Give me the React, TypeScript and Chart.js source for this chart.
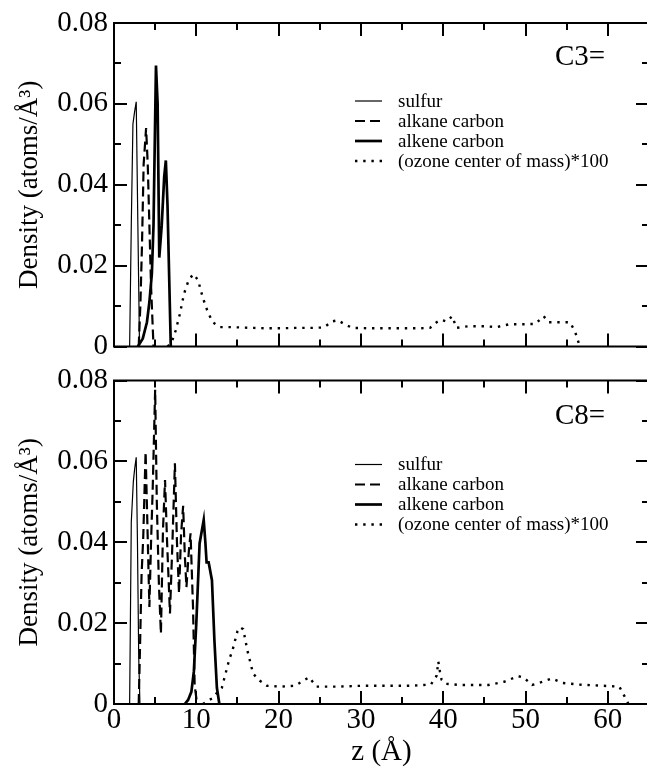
import React, { useEffect, useRef } from "react";
import { Chart, registerables } from "chart.js";
Chart.register(...registerables);

// ---------- axis data ----------
const X_MIN = 0;
const X_MAX = 65;
const Y_MIN = 0;
const Y_MAX = 0.08;
const xTickLabels = ["0", "10", "20", "30", "40", "50", "60"];
const yTickLabels = ["0", "0.02", "0.04", "0.06", "0.08"];
const xTitle = "z (Å)";
const yTitle = "Density (atoms/Å³)";
const legendLabels = ["sulfur", "alkane carbon", "alkene carbon", "(ozone center of mass)*100"];
const panelLabels = ["C3=", "C8="];

// ---------- C3= panel ----------
const c3SulfurZ = [1.9, 2.1, 2.3, 2.5, 2.7, 2.9, 3.1];
const c3SulfurD = [0, 0.03, 0.055, 0.058, 0.0605, 0.03, 0];

const c3AlkaneZ = [3.0, 3.2, 3.4, 3.6, 3.9, 4.1, 4.3, 4.5, 4.8];
const c3AlkaneD = [0, 0.01, 0.025, 0.045, 0.054, 0.045, 0.03, 0.015, 0];

const c3AlkeneZ = [2.9, 3.5, 4.0, 4.3, 4.6, 4.8, 4.95, 5.1, 5.3, 5.5, 5.8, 6.1, 6.3, 6.5, 6.9];
const c3AlkeneD = [0, 0.002, 0.006, 0.011, 0.018, 0.03, 0.05, 0.0695, 0.06, 0.022, 0.03, 0.042, 0.046, 0.035, 0];

const c3OzoneZ = [6.5, 7.0, 7.5, 8.0, 8.5, 9.0, 9.6, 10.2, 10.8, 11.4, 12.0, 12.9, 14.0, 15.5, 17.0, 18.5, 20.3, 22.0, 24.0, 25.5, 26.5, 27.2, 28.1, 29.0, 31.0, 33.0, 35.0, 37.0, 38.4, 39.2, 39.7, 40.4, 41.1, 41.6, 43.0, 45.0, 46.5, 48.0, 50.0, 51.2, 52.2, 52.8, 54.0, 55.4, 56.0, 56.6];
const c3OzoneD = [0, 0.001, 0.004, 0.008, 0.013, 0.016, 0.0179, 0.0165, 0.012, 0.0085, 0.006, 0.0048, 0.0048, 0.0047, 0.0046, 0.0045, 0.0045, 0.0046, 0.0046, 0.0047, 0.0062, 0.0065, 0.0054, 0.0046, 0.0045, 0.0045, 0.0045, 0.0045, 0.0046, 0.006, 0.0066, 0.0062, 0.0075, 0.0046, 0.005, 0.005, 0.0048, 0.0055, 0.0055, 0.0056, 0.0075, 0.006, 0.006, 0.006, 0.0038, 0];

// ---------- C8= panel ----------
const c8SulfurZ = [1.9, 2.1, 2.35, 2.5, 2.7, 2.85, 3.0, 3.15];
const c8SulfurD = [0, 0.045, 0.055, 0.058, 0.061, 0.04, 0.012, 0];

const c8AlkaneZ = [3.0, 3.15, 3.35, 3.55, 3.84, 4.05, 4.3, 4.5, 4.7, 5.0, 5.2, 5.45, 5.7, 5.95, 6.2, 6.45, 6.8, 7.1, 7.4, 7.65, 7.9, 8.15, 8.4, 8.6, 8.8, 9.1, 9.3, 9.45, 9.6, 9.8, 10.1];
const c8AlkaneD = [0, 0.013, 0.032, 0.041, 0.0624, 0.045, 0.024, 0.04, 0.053, 0.0777, 0.05, 0.03, 0.0174, 0.043, 0.0554, 0.04, 0.0224, 0.04, 0.0595, 0.04, 0.0274, 0.042, 0.049, 0.037, 0.0289, 0.038, 0.0422, 0.033, 0.024, 0.0046, 0];

const c8AlkeneZ = [8.6, 9.0, 9.4, 9.7, 10.0, 10.4, 10.9, 11.1, 11.25, 11.5, 11.9, 12.2, 12.5, 12.8];
const c8AlkeneD = [0, 0.001, 0.003, 0.008, 0.02, 0.0397, 0.0455, 0.04, 0.035, 0.035, 0.0306, 0.0157, 0.004, 0];

const c8OzoneZ = [10.8, 11.4, 12.0, 12.6, 13.1, 14.0, 14.4, 15.0, 15.3, 15.7, 16.2, 16.9, 17.7, 18.6, 20.3, 22.0, 22.8, 23.7, 24.6, 27.0, 30.0, 33.0, 36.0, 38.5, 39.2, 39.4, 39.6, 39.8, 40.3, 42.0, 44.0, 45.5, 47.4, 49.1, 49.8, 50.8, 51.9, 53.2, 54.5, 56.5, 58.5, 59.5, 61.4, 62.0, 62.5];
const c8OzoneD = [0, 0.0008, 0.0015, 0.003, 0.004, 0.011, 0.0133, 0.018, 0.019, 0.0185, 0.0133, 0.0075, 0.0058, 0.0045, 0.0043, 0.0045, 0.0055, 0.0066, 0.0043, 0.0043, 0.0045, 0.0045, 0.0045, 0.0048, 0.007, 0.0105, 0.008, 0.006, 0.005, 0.0047, 0.0047, 0.0047, 0.0055, 0.0069, 0.0065, 0.0047, 0.0054, 0.0063, 0.0052, 0.0048, 0.0046, 0.0045, 0.0043, 0.002, 0];

// ---------- styles ----------
const FONT = "'Liberation Serif', 'DejaVu Serif', 'Times New Roman', serif";
const seriesStyles = [
  { width: 1.2, dash: [] as number[] },
  { width: 2.2, dash: [10, 5] },
  { width: 2.7, dash: [] as number[] },
  { width: 2.4, dash: [2.4, 5.8] },
];

const zip = (xs: number[], ys: number[]) => xs.map((x, i) => ({ x, y: ys[i] }));

const framePlugin = {
  id: "frameTicks",
  afterDatasetsDraw(chart: any) {
    const { ctx, chartArea: a, scales } = chart;
    const xs = scales.x;
    const ys = scales.y;
    ctx.save();
    ctx.strokeStyle = "#000";
    ctx.lineWidth = 2;
    ctx.setLineDash([]);
    ctx.strokeRect(a.left, a.top, a.right - a.left, a.bottom - a.top);
    for (let v = X_MIN; v <= X_MAX + 1e-9; v += 5) {
      const p = Math.round(xs.getPixelForValue(v));
      const len = v % 10 === 0 ? 13 : 7;
      ctx.beginPath();
      ctx.moveTo(p, a.bottom);
      ctx.lineTo(p, a.bottom - len);
      ctx.moveTo(p, a.top);
      ctx.lineTo(p, a.top + len);
      ctx.stroke();
    }
    for (let k = 0; k <= 8; k++) {
      const v = k * 0.01;
      const p = Math.round(ys.getPixelForValue(v));
      const len = k % 2 === 0 ? 13 : 7;
      ctx.beginPath();
      ctx.moveTo(a.left, p);
      ctx.lineTo(a.left + len, p);
      ctx.moveTo(a.right, p);
      ctx.lineTo(a.right - len, p);
      ctx.stroke();
    }
    ctx.restore();
  },
};

const legendPlugin = {
  id: "panelLegend",
  afterDraw(chart: any, _args: any, opts: any) {
    const { ctx, chartArea: a } = chart;
    ctx.save();
    ctx.fillStyle = "#000";
    ctx.strokeStyle = "#000";
    ctx.textBaseline = "middle";
    ctx.textAlign = "left";
    ctx.font = `29px ${FONT}`;
    ctx.fillText(opts.label, 555, a.top + opts.labelOffset);
    ctx.font = `19px ${FONT}`;
    legendLabels.forEach((txt, i) => {
      const y = a.top + opts.legendOffset + i * 20;
      const st = seriesStyles[i];
      ctx.lineWidth = st.width;
      ctx.setLineDash(st.dash);
      ctx.beginPath();
      ctx.moveTo(355, y - 1);
      ctx.lineTo(382, y - 1);
      ctx.stroke();
      ctx.setLineDash([]);
      ctx.fillText(txt, 398, y);
    });
    ctx.restore();
  },
};

function buildConfig(series: { z: number[]; d: number[] }[], bottom: boolean, label: string, labelOffset: number, legendOffset: number): any {
  return {
    type: "line",
    data: {
      datasets: series.map((s, i) => ({
        label: legendLabels[i],
        data: zip(s.z, s.d),
        borderColor: "#000",
        borderWidth: seriesStyles[i].width,
        borderDash: seriesStyles[i].dash,
        pointRadius: 0,
        tension: 0,
        fill: false,
      })),
    },
    options: {
      responsive: false,
      animation: false,
      devicePixelRatio: 1,
      layout: { padding: { left: 0, right: 1, top: bottom ? 20 : 23, bottom: 0 } },
      plugins: {
        legend: { display: false },
        tooltip: { enabled: false },
        panelLegend: { label, labelOffset, legendOffset },
      },
      scales: {
        x: {
          type: "linear",
          min: X_MIN,
          max: X_MAX,
          grid: { display: false, drawTicks: false },
          border: { display: false },
          ticks: {
            display: bottom,
            stepSize: 10,
            includeBounds: false,
            autoSkip: false,
            maxRotation: 0,
            padding: 2,
            color: "#000",
            font: { family: FONT, size: 29, lineHeight: 1 },
            callback: (_v: any, i: number) => xTickLabels[i],
          },
          title: {
            display: bottom,
            text: xTitle,
            color: "#000",
            font: { family: FONT, size: 29, lineHeight: 1.2 },
            padding: 0,
          },
          afterFit: (s: any) => {
            s.height = bottom ? 66 : 8;
          },
        },
        y: {
          type: "linear",
          min: Y_MIN,
          max: Y_MAX,
          grid: { display: false, drawTicks: false },
          border: { display: false },
          ticks: {
            stepSize: 0.02,
            padding: 6,
            color: "#000",
            font: { family: FONT, size: 29, lineHeight: 1 },
            callback: (_v: any, i: number) => yTickLabels[i],
          },
          title: {
            display: true,
            text: yTitle,
            color: "#000",
            font: { family: FONT, size: 27, lineHeight: 1.2 },
            padding: { top: 14, bottom: 0 },
          },
          afterFit: (s: any) => {
            s.width = 114;
          },
        },
      },
    },
    plugins: [framePlugin, legendPlugin],
  };
}

export default function App() {
  const topRef = useRef<HTMLCanvasElement>(null);
  const botRef = useRef<HTMLCanvasElement>(null);
  useEffect(() => {
    document.body.style.margin = "0";
    document.body.style.overflow = "hidden";
    const top = new Chart(
      topRef.current as HTMLCanvasElement,
      buildConfig(
        [
          { z: c3SulfurZ, d: c3SulfurD },
          { z: c3AlkaneZ, d: c3AlkaneD },
          { z: c3AlkeneZ, d: c3AlkeneD },
          { z: c3OzoneZ, d: c3OzoneD },
        ],
        false,
        panelLabels[0],
        34,
        79
      )
    );
    const bot = new Chart(
      botRef.current as HTMLCanvasElement,
      buildConfig(
        [
          { z: c8SulfurZ, d: c8SulfurD },
          { z: c8AlkaneZ, d: c8AlkaneD },
          { z: c8AlkeneZ, d: c8AlkeneD },
          { z: c8OzoneZ, d: c8OzoneD },
        ],
        true,
        panelLabels[1],
        36,
        85
      )
    );
    return () => {
      top.destroy();
      bot.destroy();
    };
  }, []);
  return (
    <div style={{ position: "relative", width: 647, height: 770, overflow: "hidden", background: "#fff" }}>
      <canvas ref={topRef} width={650} height={367} style={{ position: "absolute", left: 0, top: 0 }} />
      <canvas ref={botRef} width={650} height={410} style={{ position: "absolute", left: 0, top: 360 }} />
    </div>
  );
}
